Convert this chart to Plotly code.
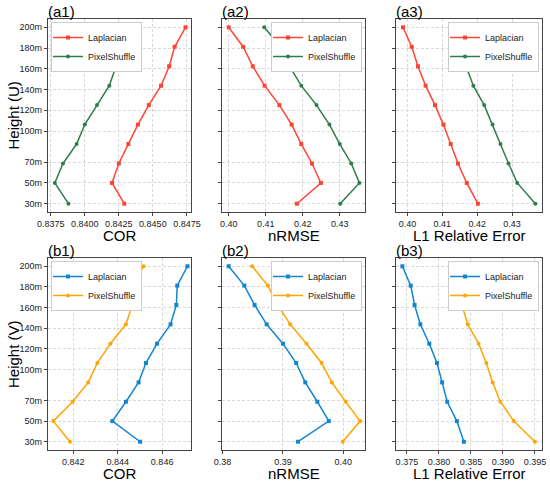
import plotly.graph_objects as go
from plotly.subplots import make_subplots

heights = [30, 50, 68.75, 87.5, 106.25, 125, 143.75, 162.5, 181.25, 200]
height_ticks = [30, 50, 70, 100, 120, 140, 160, 180, 200]
height_labels = [f"{h}m" for h in height_ticks]

# U component (top row)
u_cor_lap = [0.8429, 0.8420, 0.8425, 0.8432, 0.8439, 0.8447, 0.8456, 0.8462, 0.8466, 0.8474]
u_cor_pix = [0.8388, 0.8378, 0.8384, 0.8394, 0.8400, 0.8409, 0.8418, 0.8423, 0.8426, 0.8434]
u_nrmse_lap = [0.4184, 0.4249, 0.4225, 0.4196, 0.4170, 0.4137, 0.4097, 0.4065, 0.4039, 0.4000]
u_nrmse_pix = [0.4301, 0.4353, 0.4331, 0.4300, 0.4272, 0.4237, 0.4196, 0.4164, 0.4140, 0.4096]
u_l1_lap = [0.4202, 0.4170, 0.4145, 0.4124, 0.4103, 0.4079, 0.4052, 0.4030, 0.4012, 0.3987]
u_l1_pix = [0.4367, 0.4315, 0.4290, 0.4267, 0.4244, 0.4220, 0.4189, 0.4168, 0.4156, 0.4123]

# V component (bottom row)
v_cor_lap = [0.84501, 0.84376, 0.84437, 0.84494, 0.84527, 0.84577, 0.84638, 0.84664, 0.84668, 0.84714]
v_cor_pix = [0.84185, 0.84110, 0.84197, 0.84267, 0.84308, 0.84367, 0.84437, 0.84466, 0.84471, 0.84516]
v_nrmse_lap = [0.3925, 0.3976, 0.3957, 0.3937, 0.3922, 0.3900, 0.3873, 0.3853, 0.3836, 0.3810]
v_nrmse_pix = [0.3999, 0.4028, 0.4004, 0.3981, 0.3964, 0.3939, 0.3912, 0.3891, 0.3875, 0.3849]
v_l1_lap = [0.3839, 0.3828, 0.3813, 0.3805, 0.3797, 0.3785, 0.3771, 0.3762, 0.3756, 0.3743]
v_l1_pix = [0.3950, 0.3917, 0.3896, 0.3884, 0.3874, 0.3862, 0.3845, 0.3836, 0.3830, 0.3819]

panels = [
    # row, col, lap, pix, colors, x range, ticks, fmt, xtitle, label
    (1, 1, u_cor_lap, u_cor_pix, ("#FF4433", "#2E7D4A"), [0.8373, 0.8478],
     [0.8375, 0.8400, 0.8425, 0.8450, 0.8475], ".4f", "COR", "(a1)"),
    (1, 2, u_nrmse_lap, u_nrmse_pix, ("#FF4433", "#2E7D4A"), [0.3982, 0.4368],
     [0.40, 0.41, 0.42, 0.43], ".2f", "nRMSE", "(a2)"),
    (1, 3, u_l1_lap, u_l1_pix, ("#FF4433", "#2E7D4A"), [0.3967, 0.4386],
     [0.40, 0.41, 0.42, 0.43], ".2f", "L1 Relative Error", "(a3)"),
    (2, 1, v_cor_lap, v_cor_pix, ("#1185CF", "#FFA500"), [0.84086, 0.8473],
     [0.842, 0.844, 0.846], ".3f", "COR", "(b1)"),
    (2, 2, v_nrmse_lap, v_nrmse_pix, ("#1185CF", "#FFA500"), [0.3799, 0.4036],
     [0.38, 0.39, 0.40], ".2f", "nRMSE", "(b2)"),
    (2, 3, v_l1_lap, v_l1_pix, ("#1185CF", "#FFA500"), [0.3733, 0.3961],
     [0.375, 0.380, 0.385, 0.390, 0.395], ".3f", "L1 Relative Error", "(b3)"),
]

W, H = 550, 483


def fx(px):
    return px / W


def fy(px):
    return 1 - px / H


x_domains = [[fx(48), fx(191)], [fx(222), fx(365)], [fx(396), fx(542)]]
y_domains = [[fy(212), fy(19)], [fy(450), fy(258)]]
xtitle_y = [fy(235.5), fy(473.5)]

fig = make_subplots(rows=2, cols=3)
font = "Liberation Sans, Arial, sans-serif"

for i, (r, c, lap, pix, cols, xr, xt, fmt, xtitle, label) in enumerate(panels):
    leg = "legend" if i == 0 else f"legend{i + 1}"
    fig.add_trace(go.Scatter(
        x=lap, y=heights, mode="lines+markers", name="Laplacian",
        line=dict(color=cols[0], width=1.5), marker=dict(symbol="square", size=4, color=cols[0]),
        legend=leg), row=r, col=c)
    fig.add_trace(go.Scatter(
        x=pix, y=heights, mode="lines+markers", name="PixelShuffle",
        line=dict(color=cols[1], width=1.5), marker=dict(symbol="circle", size=4, color=cols[1]),
        legend=leg), row=r, col=c)

    fig.update_xaxes(domain=x_domains[c - 1], range=xr, tickvals=xt, tickformat=fmt,
                     row=r, col=c)
    fig.update_yaxes(
        domain=y_domains[r - 1], range=[22, 208], tickvals=height_ticks,
        ticktext=height_labels if c == 1 else [""] * len(height_ticks),
        row=r, col=c)

    left, right = x_domains[c - 1]
    top = y_domains[r - 1][1]
    fig.add_annotation(
        x=left, y=top, xref="paper", yref="paper", text=label,
        showarrow=False, xanchor="left", yanchor="bottom", yshift=-3, xshift=-2,
        font=dict(size=15, color="black"))
    fig.add_annotation(
        x=(left + right) / 2, y=xtitle_y[r - 1], xref="paper", yref="paper",
        text=xtitle, showarrow=False, xanchor="center", yanchor="middle",
        font=dict(size=15, color="black"))
    if c == 1:
        fig.add_annotation(
            x=fx(13), y=sum(y_domains[r - 1]) / 2, xref="paper", yref="paper",
            text="Height (U)" if r == 1 else "Height (V)", textangle=-90,
            showarrow=False, xanchor="center", yanchor="middle",
            font=dict(size=15, color="black"))

    fig.update_layout({leg: dict(
        x=left + fx(3) if c == 1 else right - fx(3),
        xanchor="left" if c == 1 else "right",
        y=top - 3 / H, yanchor="top",
        bgcolor="white", bordercolor="#cccccc", borderwidth=1,
        font=dict(size=9, color="#222222"), itemwidth=30, tracegroupgap=0,
        indentation=-4,
    )})

axis_style = dict(
    showline=True, linecolor="#444444", linewidth=1.2, mirror=True,
    ticks="outside", ticklen=3, tickcolor="#444444", tickangle=0,
    showgrid=True, gridcolor="#d9d9d9", gridwidth=0.8, griddash="3px,2px",
    tickfont=dict(size=9, color="#222222"), zeroline=False, automargin=False)
fig.update_xaxes(**axis_style)
fig.update_yaxes(**axis_style)

fig.update_layout(
    width=W, height=H,
    margin=dict(l=0, r=0, t=0, b=0),
    plot_bgcolor="white", paper_bgcolor="white",
    font=dict(family=font),
    showlegend=True,
)

# drop the page's default body margin so the figure fills the window
fig.write_html("out.html", config={"displayModeBar": False},
               post_script="document.body.style.margin='0';document.body.style.overflow='hidden';")
